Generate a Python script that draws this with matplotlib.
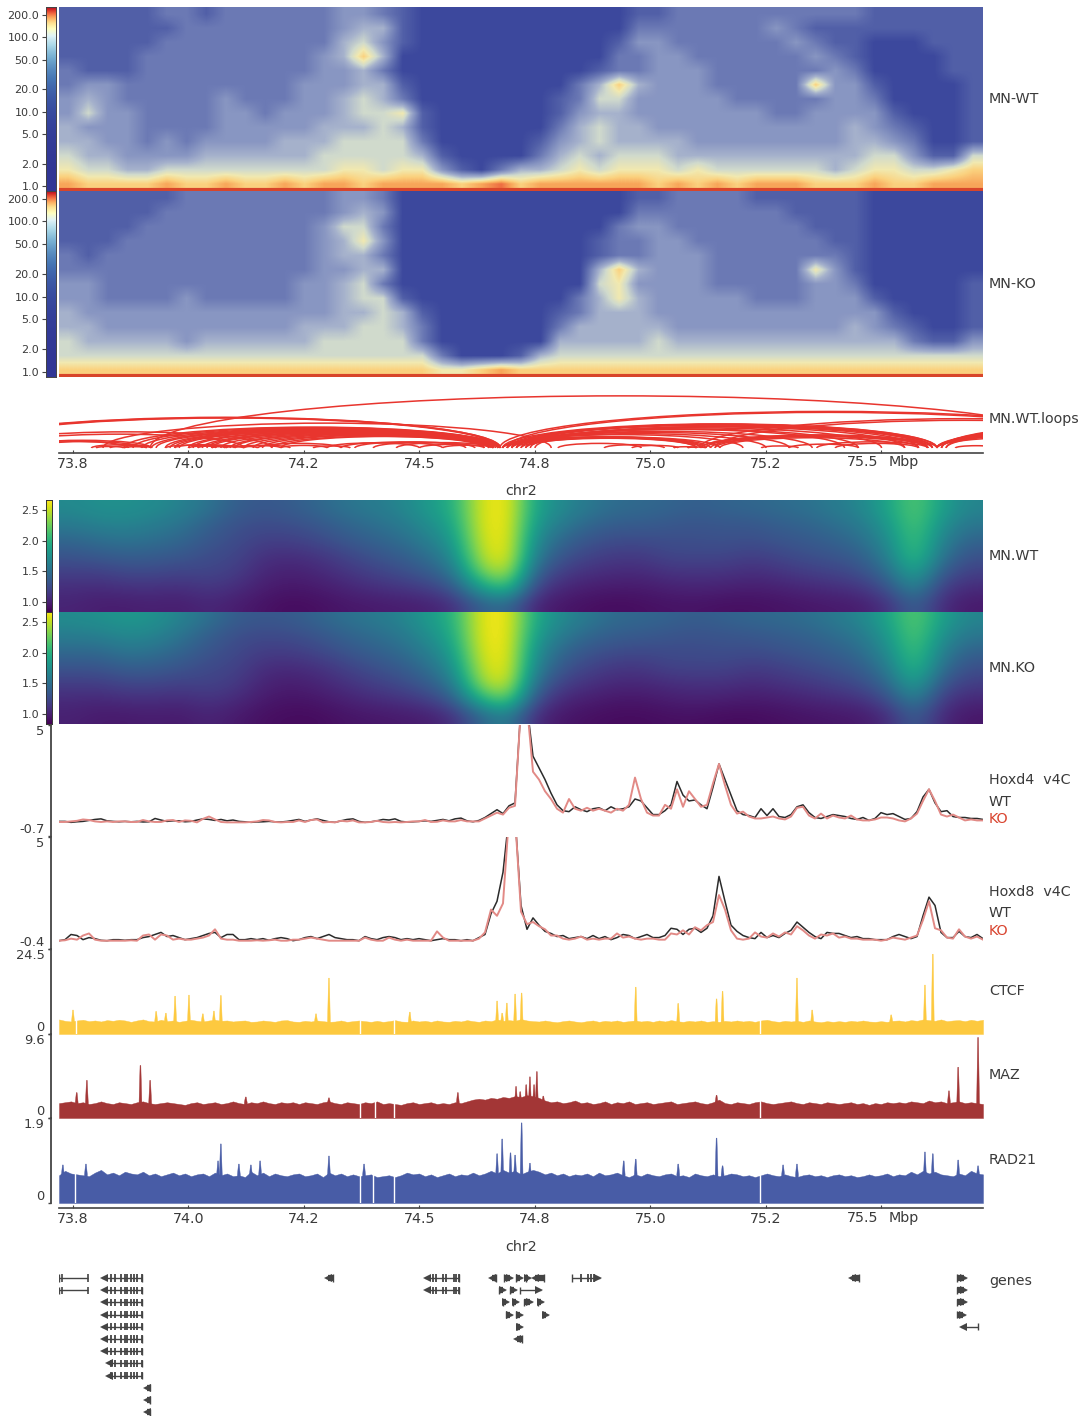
import numpy as np
import matplotlib
matplotlib.use('Agg')
import matplotlib.pyplot as plt
from matplotlib.colors import LogNorm, LinearSegmentedColormap
from matplotlib.patches import Arc

W, H = 1091, 1416
XMIN, XMAX = 73.7197, 75.7197

tick_pos = [73.75, 74.0, 74.25, 74.5, 74.75, 75.0, 75.25, 75.5]
tick_txt = ['73.8', '74.0', '74.2', '74.5', '74.8', '75.0', '75.2', '']

# hi-c contact levels, coarse reading of the picture, one digit per cell
hic_colors = ['#3c489d', '#5260a8', '#6c7ab5', '#8896c2', '#a6b2cc', '#d0dacd',
              '#f1e9b0', '#fbd27f', '#f8a65a', '#ee6e42']
hic_ticks = [1, 2, 5, 10, 20, 50, 100, 200]
hic_wt = [
    "1111122122 2222332100 0000000001 1222222222 2111111",
    "1111112222 2222344100 0000000002 2222223211 1111111",
    "1111122222 2222453100 0000000013 3222222321 1000111",
    "1111222222 2223474000 0000000022 3322222232 1000011",
    "2111222222 2223342000 0000000122 3332222223 2000011",
    "2332222222 2233344100 0000002474 3332222273 3100001",
    "3432222232 2233454200 0000012553 3333222223 3200001",
    "3533222233 2333455610 0000013443 3333332233 3310001",
    "4333222233 3334445410 0000024544 3333333333 4321001",
    "4433232333 3444555520 0000134544 4433333333 4432001",
    "5443333444 4445555541 0000245455 5444444444 4553115",
    "6554455555 5555665663 1024456566 6565555554 5665567",
    "8777787787 7878878888 7897888888 7878788877 7877888",
]
hic_ko = [
    "1111112222 2222332000 0000000001 1222211111 1000000",
    "1111122222 2222343000 0000000002 2222222111 1000000",
    "1111222222 2223552000 0000000023 3222222211 1000000",
    "1112222222 2223463000 0000000122 3322222221 1000000",
    "2122222222 2223442000 0000000122 3332222222 1000000",
    "2222222222 2223344000 0000000474 3332222263 1000000",
    "3322222222 2233452000 0000000563 3332222233 2000001",
    "3322223222 2233455100 0000002464 3333322233 3100001",
    "4333333333 3333445410 0000012444 3333333333 3310001",
    "4433333333 3344455420 0000024444 4333333333 4321001",
    "5444443444 4445555520 0000044444 5444444444 4442113",
    "5555555555 5555555552 0001455555 5555555555 5555555",
    "7777777777 7777777776 6787777777 7777777777 7777777",
]

# loops, start and end in Mb
loop_start = [73.917, 74.674, 74.69, 75.107, 75.14,
              73.48, 73.49, 73.50, 73.55, 73.58, 73.62, 73.65, 73.60,
              73.79, 73.83, 73.86, 73.80, 73.815,
              73.86, 73.88, 73.90, 73.92, 73.93, 73.95, 73.96, 73.97, 73.98, 74.00, 74.01,
              74.03, 74.04, 74.05, 74.07, 74.09, 74.10, 74.12, 74.14, 74.16, 74.18, 74.20,
              73.95, 73.97, 74.00, 74.02, 74.05, 74.08, 74.10, 74.12,
              74.15, 74.20, 74.27, 74.30, 74.33, 74.36, 74.40, 74.45, 74.50, 74.55,
              74.68, 74.69, 74.70, 74.70, 74.71, 74.68, 74.68, 74.69, 74.69, 74.70, 74.70,
              74.71, 74.72, 74.73, 74.74, 74.75, 74.68, 74.69, 74.70, 74.71, 74.72, 74.73,
              74.80, 74.90, 74.96, 75.05, 75.08,
              75.11, 75.11, 75.12, 75.13, 75.14, 75.15, 75.24, 75.30, 75.36, 75.40,
              75.62, 75.62, 75.62, 75.62, 75.62, 75.63, 75.63, 75.63, 75.64, 75.64, 75.66]
loop_end = [75.95, 76.10, 76.08, 76.25, 76.22,
            74.675, 74.675, 74.67, 74.18, 74.12, 73.92, 73.90, 73.87,
            73.92, 73.92, 73.91, 73.86, 74.785,
            74.675, 74.675, 74.67, 74.675, 74.66, 74.675, 74.67, 74.66, 74.675, 74.66, 74.67,
            74.665, 74.655, 74.67, 74.66, 74.65, 74.67, 74.66, 74.65, 74.66, 74.64, 74.65,
            74.06, 74.10, 74.08, 74.12, 74.12, 74.15, 74.20, 74.22,
            74.33, 74.30, 74.35, 74.50, 74.55, 74.60, 74.62, 74.66, 74.64, 74.66,
            75.62, 75.61, 75.62, 75.60, 75.61, 75.11, 75.20, 75.25, 75.30, 75.35, 75.42,
            75.45, 75.50, 75.55, 75.58, 75.60, 75.11, 75.10, 75.13, 75.12, 75.10, 75.15,
            74.98, 75.03, 75.06, 75.10, 75.12,
            75.62, 75.60, 75.61, 75.58, 75.60, 75.55, 75.32, 75.45, 75.60, 75.58,
            76.05, 76.15, 76.25, 76.35, 76.45, 76.55, 76.65, 76.72, 76.30, 76.50, 75.75]

# tad separation score, top row first, 0-100 of the colour range
tad_wt = [
    [47,50,50,48,44,38,30,27,29,33,38,41,45,53,62,94,100,58,47,40,35,34,32,30,32,33,35,37,41,46,58,75,56,45],
    [41,44,45,42,38,31,25,23,24,27,32,36,40,48,58,94,100,54,41,33,29,29,27,26,27,27,30,32,36,41,53,74,50,39],
    [33,36,38,36,33,27,23,19,19,22,27,31,35,42,53,92,100,48,33,26,23,23,24,24,25,24,26,28,31,36,48,72,44,32],
    [26,28,30,29,27,23,21,14,13,15,20,25,29,35,47,88,100,42,26,20,17,17,21,21,21,18,21,24,26,30,43,70,38,25],
    [19,19,22,22,20,21,18,11,9,11,15,19,23,28,38,78,92,32,18,14,12,12,15,15,15,13,15,18,20,24,35,60,28,19],
    [13,12,14,14,13,16,13,8,6,7,10,13,15,18,26,55,70,20,11,8,7,7,9,10,9,8,9,11,13,15,25,46,18,12],
    [10,8,8,9,8,11,8,5,3,4,6,7,8,9,13,30,35,10,6,4,3,4,5,5,4,4,5,6,7,8,14,32,12,7],
]
tad_ko = [
    [48,50,53,51,44,37,29,27,28,32,37,40,44,53,63,96,100,60,47,40,34,33,31,29,31,33,34,36,40,46,58,76,56,45],
    [42,43,47,45,38,30,24,22,23,26,31,35,39,48,60,96,100,56,41,33,29,28,26,25,26,27,29,31,35,40,53,75,50,39],
    [34,34,39,37,32,26,22,18,18,21,26,30,34,42,55,94,100,50,33,26,23,22,23,23,24,23,25,27,30,35,48,72,43,31],
    [26,26,30,29,26,22,20,13,12,14,19,24,28,35,49,90,100,45,27,20,16,16,20,20,20,17,19,22,25,29,41,68,36,24],
    [18,18,21,21,19,20,17,10,8,10,14,18,22,28,40,84,96,36,19,14,11,11,13,14,14,12,14,16,19,23,33,58,26,18],
    [12,11,13,13,12,15,12,7,5,6,9,12,14,18,28,62,78,24,11,8,6,6,8,9,8,7,8,10,12,14,23,44,17,11],
    [9,7,7,8,7,10,7,4,3,3,5,6,7,8,13,32,44,12,6,4,3,3,4,4,3,3,4,5,6,7,12,30,11,6],
]
tad_ticks = [1.0, 1.5, 2.0, 2.5]

# virtual 4c tracks, one value each 6 px of the track
h4_wt = [.05,.05,.00,.03,.05,.10,.15,.18,.08,.05,
         .03,.05,.03,.05,.02,.03,.20,.12,.05,.08,
         .08,.03,.05,.12,.18,.15,.10,.15,.08,.12,
         .05,.03,.00,.02,.03,.05,.03,.02,.05,.10,
         .15,.05,.12,.18,.10,.03,.00,.08,.15,.18,
         .05,.00,.03,.08,.15,.12,.18,.05,.02,.03,
         .05,.08,.05,.10,.15,.08,.18,.22,.08,.03,
         .10,.25,.45,.65,.45,.85,1.00,6,6,3.4,
         2.8,2.2,1.5,.9,.6,.55,.8,.65,.55,.7,
         .75,.6,.8,.65,.7,.8,1.2,1.1,.75,.4,
         .4,.6,.9,2.1,1.4,1.1,1.15,.9,.7,1.8,
         3.0,2.2,1.4,.6,.4,.35,.25,.7,.35,.7,
         .3,.25,.4,.8,.9,.5,.25,.2,.3,.4,
         .35,.3,.2,.15,.25,.1,.2,.5,.4,.45,
         .3,.15,.2,.55,1.3,1.7,1.0,.55,.6,.3,
         .25,.25,.2,.2,.15]
h4_ko = [.02,.02,.05,.08,.15,.12,.05,.02,.05,.02,
         .05,.05,.02,.02,.12,.05,.02,.02,.10,.12,
         .02,.10,.08,.00,.18,.30,.15,.02,.00,.00,
         .00,.00,.02,.05,.12,.10,.02,.00,.02,.02,
         .10,.02,.12,.15,.00,.02,.00,.08,.05,.10,
         .00,.00,.02,.08,.02,.00,.02,.00,.02,.05,
         .05,.12,.02,.03,.10,.05,.05,.12,.05,.05,
         .05,.20,.35,.50,.40,.75,.85,6,6,2.6,
         2.2,1.6,1.2,.7,.5,1.2,.7,.6,.75,.6,
         .7,.6,.5,.7,.6,.9,2.3,1.2,.5,.35,
         .35,.9,.7,1.7,.8,1.6,1.2,.8,.9,2.0,
         3.0,1.9,.9,.45,.55,.3,.2,.2,.25,.3,
         .2,.15,.3,.75,.8,.35,.2,.45,.2,.35,
         .25,.2,.35,.15,.1,.1,.15,.25,.25,.2,
         .1,.05,.2,.45,1.1,1.7,1.1,.4,.3,.4,
         .25,.1,.15,.1,.1]
h8_wt = [.00,.05,.30,.25,.05,.15,.10,.02,.00,.05,
         .05,.02,.05,.05,.15,.20,.30,.40,.20,.25,
         .15,.05,.10,.15,.25,.35,.40,.15,.30,.30,
         .05,.05,.10,.05,.10,.02,.10,.15,.10,.00,
         .05,.15,.20,.10,.20,.30,.15,.10,.05,.05,
         .00,.20,.10,.05,.15,.20,.15,.05,.10,.05,
         .10,.05,.00,.05,.10,.05,.05,.00,.05,.00,
         .15,.30,1.3,1.9,3.3,6,6,1.7,.55,1.1,
         .75,.45,.35,.2,.25,.1,.15,.2,.1,.25,
         .1,.2,.05,.15,.3,.25,.1,.2,.3,.15,
         .15,.25,.6,.55,.3,.55,.6,.4,.6,1.2,
         3.1,1.9,.75,.45,.25,.15,.1,.4,.15,.25,
         .15,.35,.5,.9,.65,.4,.2,.1,.4,.35,
         .35,.25,.15,.2,.1,.1,.05,.05,.05,.2,
         .3,.2,.1,.2,1.2,2.1,1.7,.4,.15,.15,
         .45,.2,.15,.3,.1]
h8_ko = [.00,.02,.10,.05,.25,.35,.05,.00,.00,.00,
         .00,.00,.02,.00,.25,.30,.05,.30,.25,.05,
         .10,.05,.05,.10,.15,.25,.55,.10,.05,.05,
         .00,.00,.00,.02,.00,.02,.05,.00,.00,.05,
         .05,.10,.15,.10,.05,.00,.00,.00,.00,.00,
         .00,.15,.05,.00,.00,.15,.05,.00,.05,.00,
         .00,.00,.00,.45,.15,.00,.00,.00,.00,.00,
         .10,.40,1.5,1.2,1.8,6,6,1.4,.8,.9,
         .7,.55,.25,.25,.1,.05,.1,.2,.05,.1,
         .05,.1,.1,.35,.15,.2,.1,.05,.1,.1,
         .05,.05,.35,.3,.5,.3,.65,.5,.75,.9,
         2.2,1.5,.5,.1,.05,.1,.4,.2,.15,.35,
         .2,.4,.3,.7,.5,.25,.1,.3,.25,.35,
         .15,.2,.1,.1,.05,.05,.05,.0,.05,.15,
         .1,.05,.15,.25,1.0,1.9,.6,.5,.15,.1,
         .55,.2,.1,.2,.05]

# chip tracks, base signal then the peaks and the gaps in it
ctcf_base = [4.2,3.8,3.6,3.9,4.1,3.7,3.9,3.6,4.0,3.8,
             4.1,3.9,3.5,3.9,4.2,3.7,3.6,4.1,3.7,3.9,
             3.5,3.8,4.1,3.8,3.6,3.9,4.1,3.8,3.9,3.6,
             3.8,3.9,3.5,3.6,3.9,3.7,3.5,3.9,4.0,3.6,
             3.5,3.8,3.6,3.9,3.7,3.5,3.6,3.9,3.5,3.7,
             3.9,3.7,3.5,3.8,3.5,3.7,4.0,3.6,3.5,3.9,
             3.6,3.8,3.5,3.9,3.6,3.5,3.8,3.6,4.0,3.7,
             3.5,3.9,3.7,4.2,3.8,4.0,3.8,4.3,3.9,3.7,
             3.6,3.9,3.6,3.4,3.7,3.9,3.6,3.4,3.7,3.9,
             3.5,3.8,3.6,3.9,3.5,3.7,3.9,3.6,3.8,3.5,
             3.9,3.6,4.0,3.7,3.5,3.8,3.6,3.9,3.5,3.7,
             3.5,3.8,3.6,3.9,3.6,3.8,3.5,3.9,4.1,3.7,
             3.5,3.8,3.6,3.8,3.5,3.9,3.6,3.4,3.7,3.5,
             3.7,3.5,3.8,3.6,3.9,3.6,3.5,3.7,3.5,3.8,
             3.9,3.6,4.0,3.8,4.2,4.0,3.8,4.2,3.7,3.9,
             4.0,3.7,4.1,3.8,4.1]
ctcf_peak_pos = [73.75, 73.93, 73.951, 73.971, 74.001, 74.031, 74.055, 74.07, 74.276, 74.304, 74.479,
                 74.668, 74.679, 74.689, 74.707, 74.721, 74.968, 75.06, 75.143, 75.156, 75.317, 75.35,
                 75.521, 75.594, 75.611]
ctcf_peak_val = [6.9, 6.5, 6.0, 10.9, 11.2, 5.8, 6.6, 11.1, 5.8, 16.1, 6.3,
                 9.5, 6.0, 8.9, 11.5, 11.8, 13.5, 8.8, 10.1, 12.3, 16.1, 6.9,
                 5.5, 14.1, 23.0]
ctcf_gaps = [73.757, 74.372, 74.445, 75.236]

maz_base = [1.7,1.8,1.9,1.7,1.8,1.6,1.7,1.9,1.7,1.6,
            1.8,1.7,1.6,1.8,1.9,1.7,1.6,1.7,1.8,1.7,
            1.6,1.5,1.7,1.8,1.6,1.7,1.8,1.6,1.7,1.9,
            1.7,1.6,1.8,1.7,1.9,1.7,1.6,1.8,1.7,1.8,
            1.6,1.8,1.7,1.6,1.8,1.9,1.7,1.6,1.8,1.7,
            1.6,1.8,1.7,1.9,1.6,1.7,1.6,1.5,1.7,1.8,
            1.6,1.7,1.8,1.6,1.7,1.6,1.8,1.7,1.9,2.1,
            2.2,2.1,2.3,2.2,2.4,2.3,2.5,2.4,2.6,2.5,
            2.3,2.0,1.8,1.9,1.7,1.8,2.0,1.7,1.8,1.6,
            1.7,1.9,1.6,1.8,1.7,1.9,1.6,1.7,1.8,1.6,
            1.7,1.8,1.9,1.6,1.7,1.8,1.9,1.7,1.6,1.8,
            2.1,1.7,1.6,1.8,1.7,1.6,1.8,1.9,1.7,1.6,
            1.7,1.8,1.9,1.7,1.6,1.8,1.7,1.6,1.8,1.7,
            1.6,1.7,1.8,1.6,1.7,1.5,1.7,1.6,1.8,1.7,
            1.8,1.7,1.9,1.8,1.7,2.0,1.8,1.9,1.7,1.8,
            1.9,1.7,1.8,1.7,1.6]
maz_peak_pos = [73.758, 73.78, 73.896, 73.917, 74.124, 74.304, 74.583, 74.709, 74.718, 74.731, 74.739,
                74.748, 74.754, 74.768, 75.143, 75.646, 75.666, 75.709]
maz_peak_val = [2.9, 4.3, 6.0, 4.3, 2.4, 2.3, 2.9, 3.6, 3.0, 3.8, 4.7, 3.8, 5.3, 2.5, 2.6, 3.1, 5.8, 9.2]
maz_gaps = [74.372, 74.404, 74.445, 75.236]

rad_base = [.62,.72,.66,.64,.62,.60,.68,.74,.64,.68,
            .62,.70,.66,.64,.70,.62,.66,.60,.64,.68,
            .62,.66,.60,.64,.66,.60,.68,.62,.66,.60,
            .62,.58,.70,.62,.68,.60,.66,.62,.60,.64,
            .66,.60,.62,.66,.58,.68,.62,.66,.60,.64,
            .60,.62,.64,.58,.60,.62,.58,.62,.68,.64,
            .66,.60,.64,.58,.62,.66,.60,.64,.62,.68,
            .62,.66,.72,.66,.74,.68,.72,.64,.70,.74,
            .70,.64,.68,.62,.66,.60,.64,.62,.66,.60,
            .68,.62,.64,.68,.62,.58,.64,.60,.66,.62,
            .60,.64,.66,.60,.62,.58,.66,.62,.60,.64,
            .60,.62,.66,.64,.60,.62,.58,.62,.66,.62,
            .60,.64,.60,.58,.62,.64,.60,.62,.58,.62,
            .64,.60,.62,.58,.60,.64,.60,.62,.66,.60,
            .64,.62,.70,.64,.72,.66,.70,.64,.62,.60,
            .66,.62,.72,.66,.64]
rad_peak_pos = [73.728, 73.778, 74.064, 74.07, 74.109, 74.135, 74.155, 74.304, 74.38, 74.668, 74.679, 74.697,
                74.707, 74.721, 74.739, 74.942, 74.968, 75.06, 75.143, 75.156, 75.287, 75.317, 75.594,
                75.611, 75.666, 75.709]
rad_peak_val = [.85, .87, .94, 1.32, .87, .85, .94, 1.05, .87, 1.10, 1.43, 1.12,
                1.07, 1.79, .89, .94, .98, .87, 1.45, .83, .85, .87, 1.14,
                1.10, .96, .83]
rad_gaps = [73.755, 74.372, 74.40, 74.445, 75.236]

# genes: start, end, row, strand
gene_start = [73.720, 73.813, 74.298, 74.512, 74.653, 74.683, 74.709, 74.731, 74.746, 74.830, 75.432, 75.663,
              73.720, 73.813, 74.512, 74.672, 74.696, 74.718, 75.663,
              73.813, 74.681, 74.702, 74.726, 74.756, 75.663,
              73.813, 74.687, 74.709, 74.767, 75.663,
              73.813, 74.711, 75.672,
              73.813, 74.707,
              73.813, 73.824, 73.824, 73.906, 73.906, 73.906]
gene_end = [73.782, 73.899, 74.313, 74.585, 74.666, 74.700, 74.722, 74.739, 74.769, 74.891, 75.451, 75.683,
            73.782, 73.899, 74.585, 74.685, 74.709, 74.763, 75.683,
            73.899, 74.692, 74.713, 74.744, 74.767, 75.683,
            73.899, 74.700, 74.722, 74.778, 75.681,
            73.899, 74.722, 75.709,
            73.899, 74.722,
            73.899, 73.899, 73.899, 73.917, 73.917, 73.917]
gene_row = [0, 0, 0, 0, 0, 0, 0, 0, 0, 0, 0, 0,
            1, 1, 1, 1, 1, 1, 1,
            2, 2, 2, 2, 2, 2,
            3, 3, 3, 3, 3,
            4, 4, 4,
            5, 5,
            6, 7, 8, 9, 10, 11]
gene_strand = ['.', '-', '-', '-', '-', '+', '+', '+', '-', '+', '-', '+',
               '.', '-', '-', '+', '+', '+', '+',
               '-', '+', '+', '+', '+', '+',
               '-', '+', '+', '+', '+',
               '-', '+', '-',
               '-', '-',
               '-', '-', '-', '-', '-', '-']
hoxd_like_exons = [73.832, 73.841, 73.854, 73.863, 73.867, 73.876, 73.882, 73.889, 73.899]
mid_exons = [74.53, 74.536, 74.55, 74.558, 74.574, 74.58, 74.585]
right_exons = [74.85, 74.865, 74.872, 74.878]

TXT = '#3a3a3a'
LINE = '#444444'


def px_axes(x0, y0, x1, y1):
    return fig.add_axes([x0 / W, 1 - y1 / H, (x1 - x0) / W, (y1 - y0) / H])


def px_text(x, y, s, **kw):
    kw.setdefault('fontsize', 10.3)
    kw.setdefault('color', TXT)
    fig.text(x / W, 1 - y / H, s, va='center', **kw)


def x_axis(ax):
    ax.set_xlim(XMIN, XMAX)
    for s in ['top', 'left', 'right']:
        ax.spines[s].set_visible(False)
    ax.spines['bottom'].set_color(LINE)
    ax.spines['bottom'].set_linewidth(1.2)
    ax.set_yticks([])
    ax.set_xticks(tick_pos)
    ax.set_xticklabels(tick_txt, fontsize=10.3, color=TXT)
    ax.tick_params(axis='x', direction='in', length=2.5, color=LINE, pad=3)
    ax.patch.set_alpha(0)


def hic_panel(rows, y0, y1):
    grid = np.array([[int(c) for c in r.replace(' ', '')] for r in rows])
    cmap = LinearSegmentedColormap.from_list('hic', hic_colors)
    ax = px_axes(59, y0, 983, y1)
    ax.imshow(grid, cmap=cmap, vmin=0, vmax=9, aspect='auto', interpolation='bilinear',
              extent=[XMIN, XMAX, 0, len(rows)])
    ax.axhline(0.06, color='#d8452a', lw=3)
    ax.set_xlim(XMIN, XMAX)
    ax.set_ylim(0, len(rows))
    ax.axis('off')
    cax = px_axes(46, y0, 56, y1)
    norm = LogNorm(0.86, 254)
    grad = np.geomspace(254, 0.86, 256).reshape(-1, 1)
    cax.imshow(grad, cmap='RdYlBu_r', norm=norm, aspect='auto', extent=[0, 1, 0.86, 254])
    cax.set_yscale('log')
    cax.set_ylim(0.86, 254)
    cax.set_xticks([])
    cax.set_yticks(hic_ticks)
    cax.set_yticklabels(['%.1f' % t for t in hic_ticks], fontsize=8, color=TXT)
    cax.minorticks_off()
    cax.tick_params(axis='y', length=3, color=LINE, pad=2, width=0.8)
    for s in cax.spines.values():
        s.set_color(LINE)
        s.set_linewidth(0.7)


def tad_panel(rows, y0, y1):
    ax = px_axes(59, y0, 983, y1)
    ax.imshow(np.array(rows) / 100, cmap='viridis', vmin=0, vmax=1, aspect='auto', interpolation='bicubic')
    ax.axis('off')
    cax = px_axes(46, y0, 52, y1)
    cax.imshow(np.linspace(1, 0, 256).reshape(-1, 1), cmap='viridis', aspect='auto',
               extent=[0, 1, 0.83, 2.67])
    cax.set_xticks([])
    cax.set_yticks(tad_ticks)
    cax.set_yticklabels(['%.1f' % t for t in tad_ticks], fontsize=8, color=TXT)
    cax.tick_params(axis='y', length=3, color=LINE, pad=2, width=0.8)
    for s in cax.spines.values():
        s.set_color('#333333')
        s.set_linewidth(0.7)


def left_axis(ax, lo, hi, lo_txt, hi_txt):
    for s in ['top', 'right', 'bottom']:
        ax.spines[s].set_visible(False)
    ax.spines['left'].set_position(('outward', 5.8))
    ax.spines['left'].set_color(LINE)
    ax.spines['left'].set_linewidth(1.3)
    ax.set_xticks([])
    ax.set_xlim(XMIN, XMAX)
    ax.set_ylim(lo, hi)
    ax.set_yticks([lo, hi])
    ax.set_yticklabels([lo_txt, hi_txt], fontsize=9.4, color=TXT)
    ax.tick_params(axis='y', length=2.5, color=LINE, pad=2, width=1)
    labels = ax.get_yticklabels()
    labels[0].set_va('bottom')
    labels[1].set_va('top')
    ax.patch.set_alpha(0)


def v4c_panel(wt, ko, y0, y1, lo, hi, lo_txt):
    ax = px_axes(59, y0, 983, y1)
    xs = np.linspace(XMIN, XMAX, len(wt))
    ax.plot(xs, wt, color='#2b2b2b', lw=1.1)
    ax.plot(xs, ko, color='#e28a86', lw=1.4)
    left_axis(ax, lo, hi, lo_txt, '5')


def chip_panel(base, peak_pos, peak_val, gaps, color, y0, y1, hi, hi_txt):
    ax = px_axes(59, y0, 983, y1)
    xs = np.linspace(XMIN, XMAX, len(base))
    ax.fill_between(xs, 0, base, color=color, lw=0.3)
    level = np.mean(base)
    for p, v in zip(peak_pos, peak_val):
        ax.fill([p - 0.003, p - 0.0008, p + 0.0008, p + 0.003, p + 0.003, p - 0.003],
                [level, v, v, level, 0, 0], color=color, lw=0.3)
    ax.vlines(gaps, 0, np.max(base), color='white', lw=1.0)
    left_axis(ax, 0, hi, '0', hi_txt)


def gene_panel(ax):
    ax.set_xlim(XMIN, XMAX)
    ax.set_ylim(11.31, -1.066)
    ax.axis('off')
    dark = '#444444'
    for st, en, row, strand in zip(gene_start, gene_end, gene_row, gene_strand):
        ax.plot([st, en], [row, row], color=dark, lw=1.0, solid_capstyle='butt')
        if strand == '-':
            tip = st + 0.004
            block = [tip, en]
        elif strand == '+':
            tip = en - 0.004
            block = [st, tip]
        else:
            tip = None
        if tip is not None:
            if en - st < 0.03:
                ax.plot(block, [row, row], color=dark, lw=4.5, solid_capstyle='butt')
            ax.plot(tip, row, marker='<' if strand == '-' else '>', ms=5.5, color=dark, mew=0)
        ax.vlines(st if strand != '-' else en, row - 0.3, row + 0.3, color=dark, lw=1)
        if strand == '.':
            ax.vlines([en, 73.727], row - 0.3, row + 0.3, color=dark, lw=1.2)
        if st == 73.813 or st == 73.824:
            ax.vlines(hoxd_like_exons, row - 0.3, row + 0.3, color=dark, lw=1.3)
        if st == 74.512:
            ax.vlines(mid_exons, row - 0.3, row + 0.3, color=dark, lw=1.3)
        if st == 74.830:
            ax.vlines(right_exons, row - 0.3, row + 0.3, color=dark, lw=1.3)


fig = plt.figure(figsize=(W / 100, H / 100), dpi=100, facecolor='white')

hic_panel(hic_wt, 7, 191)
hic_panel(hic_ko, 191, 377)

ax = px_axes(59, 390, 983, 453)
for st, en in zip(loop_start, loop_end):
    ax.add_patch(Arc(((st + en) / 2, 0), en - st, 2 * (en - st), theta1=0, theta2=180, color='#e8352e', lw=1.1))
ax.set_ylim(-0.195, 2.262)
x_axis(ax)

tad_panel(tad_wt, 500, 612)
tad_panel(tad_ko, 612, 724)

v4c_panel(h4_wt, h4_ko, 725, 836, -0.7, 5, '-0.7')
v4c_panel(h8_wt, h8_ko, 837, 949, -0.4, 5, '-0.4')
chip_panel(ctcf_base, ctcf_peak_pos, ctcf_peak_val, ctcf_gaps, '#fdc93f', 949, 1034, 24.5, '24.5')
chip_panel(maz_base, maz_peak_pos, maz_peak_val, maz_gaps, '#a33636', 1034, 1118, 9.6, '9.6')
chip_panel(rad_base, rad_peak_pos, rad_peak_val, rad_gaps, '#485ca6', 1118, 1203, 1.9, '1.9')

ax = px_axes(59, 1204, 983, 1208)
x_axis(ax)

gene_panel(px_axes(59, 1265, 983, 1416))

px_text(863, 462, '75.5', ha='center')
px_text(863, 1218, '75.5', ha='center')
px_text(889, 462, 'Mbp')
px_text(889, 1218, 'Mbp')
px_text(521, 491, 'chr2', ha='center')
px_text(521, 1247, 'chr2', ha='center')

for y, s in [(99, 'MN-WT'), (284, 'MN-KO'), (419, 'MN.WT.loops'), (556, 'MN.WT'), (668, 'MN.KO'),
             (780, 'Hoxd4  v4C'), (802, 'WT'), (892, 'Hoxd8  v4C'), (913, 'WT'),
             (991, 'CTCF'), (1075, 'MAZ'), (1160, 'RAD21'), (1281, 'genes')]:
    px_text(989, y, s)
px_text(989, 819, 'KO', color='#d9442f')
px_text(989, 931, 'KO', color='#d9442f')

fig.savefig('out.png', dpi=100)
